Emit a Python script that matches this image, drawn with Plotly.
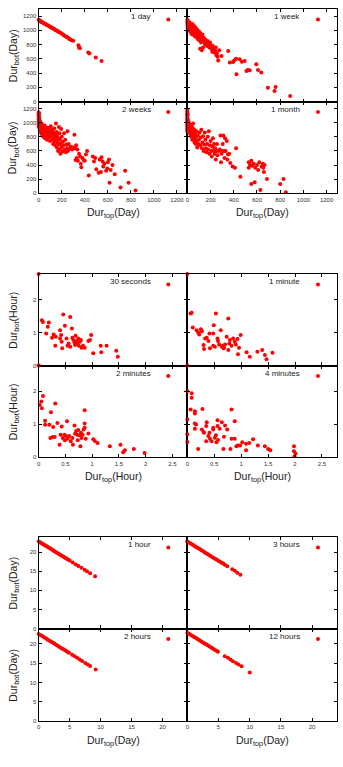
import plotly.graph_objects as go

# ---------------- data ----------------
# group 1 (days)
day1_x = [0, 5, 10, 15, 20, 25, 30, 38, 45, 52, 60, 68, 75, 82, 90, 98, 105, 112, 120, 128, 135, 142, 150, 160, 168,
          175, 185, 195, 205, 215, 225, 235, 245, 255, 265, 275, 285, 300, 345, 350, 358, 430, 440, 495, 545]
day1_y = [1150, 1140, 1135, 1128, 1125, 1118, 1112, 1105, 1100, 1092, 1085, 1080, 1072, 1068, 1060, 1050, 1045, 1040,
          1030, 1025, 1018, 1010, 1002, 995, 985, 978, 968, 958, 948, 936, 925, 915, 905, 895, 880, 870, 862, 855, 790,
          760, 750, 690, 675, 620, 568]

week1_x = [0, 0, 0, 2, 3, 5, 8, 10, 12, 15, 18, 20, 22, 25, 28, 30, 33, 35, 38, 40, 42, 45, 48, 50, 52, 55, 58, 60, 62,
           65, 68, 70, 72, 75, 78, 80, 85, 88, 90, 92, 95, 100, 102, 105, 110, 112, 115, 118, 120, 125, 128, 130, 135,
           140, 145, 150, 152, 155, 160, 165, 170, 175, 180, 185, 190, 195, 200, 205, 210, 215, 220, 225, 230, 240, 245,
           250, 255, 260, 275, 110, 125, 135, 266, 294, 352, 366, 394, 405, 420, 451, 470, 494, 423, 509, 537, 520, 594,
           609, 637, 694, 751, 760, 886]
week1_y = [1150, 1120, 1090, 1060, 1030, 1130, 1100, 1070, 1040, 1010, 1085, 1110, 1050, 980, 1020, 1070, 995, 950, 1040,
           1005, 970, 1090, 1030, 940, 1000, 960, 1060, 1015, 920, 985, 945, 1040, 1000, 905, 960, 930, 1010, 975, 880,
           945, 910, 985, 860, 940, 900, 960, 870, 830, 925, 890, 850, 940, 860, 900, 880, 830, 800, 870, 845, 810, 780,
           850, 820, 790, 760, 830, 800, 760, 730, 700, 780, 740, 690, 710, 760, 650, 680, 630, 720, 740, 720, 760, 575,
           640, 710, 547, 556, 580, 600, 593, 560, 570, 383, 430, 439, 445, 523, 444, 407, 196, 150, 206, 79]

week2_x = [0, 0, 0, 0, 0, 0, 0, 0, 0, 2, 3, 5, 8, 10, 12, 15, 18, 20, 22, 25, 28, 30, 32, 35, 38, 40, 42, 45, 48, 50, 52,
           55, 58, 60, 62, 65, 68, 70, 72, 75, 78, 80, 85, 88, 90, 95, 98, 100, 105, 108, 110, 115, 118, 120, 125, 128,
           130, 135, 138, 140, 145, 148, 150, 152, 155, 158, 160, 165, 168, 170, 175, 178, 180, 182, 185, 188, 190, 195,
           198, 200, 205, 210, 215, 220, 225, 230, 235, 240, 245, 250, 255, 260, 270, 280, 290, 300, 310, 315, 320, 325,
           330, 335, 340, 350, 360, 365, 370, 380, 390, 400, 410, 420, 435, 470, 480, 490, 500, 520, 530, 540, 545, 555,
           560, 570, 585, 595, 600, 610, 615, 625, 640, 660, 710, 750, 780, 840]
week2_y = [1150, 1120, 1100, 1080, 1050, 1020, 990, 960, 940, 1130, 1000, 1070, 1040, 980, 920, 1010, 880, 950, 850, 990,
           900, 830, 960, 870, 920, 800, 940, 860, 900, 820, 960, 780, 880, 840, 920, 870, 800, 900, 760, 850, 930, 820,
           880, 790, 860, 900, 740, 840, 950, 800, 870, 760, 900, 820, 700, 860, 780, 920, 730, 840, 680, 800, 990, 750,
           870, 650, 820, 720, 600, 780, 940, 690, 850, 620, 760, 560, 700, 910, 650, 800, 590, 730, 680, 850, 620, 760,
           580, 690, 640, 880, 600, 700, 640, 660, 620, 650, 830, 640, 470, 680, 500, 620, 460, 560, 520, 420, 370, 500,
           470, 460, 550, 600, 250, 520, 450, 500, 340, 290, 480, 300, 510, 450, 380, 420, 320, 350, 440, 480, 150, 330,
           400, 270, 80, 320, 150, 40]

month1_x = [0, 0, 0, 0, 0, 0, 0, 0, 0, 0, 0, 0, 0, 0, 0, 0, 2, 3, 5, 8, 10, 12, 15, 18, 20, 22, 25, 28, 30, 32, 35, 38,
            40, 42, 45, 48, 50, 52, 55, 58, 60, 62, 65, 68, 70, 72, 75, 78, 80, 85, 90, 95, 100, 105, 110, 115, 120, 125,
            130, 135, 140, 145, 150, 155, 160, 165, 170, 175, 180, 185, 190, 195, 200, 205, 210, 215, 220, 225, 230, 235,
            240, 245, 250, 255, 260, 270, 280, 285, 290, 295, 300, 305, 310, 315, 320, 325, 330, 340, 345, 350, 360, 370,
            390, 410, 420, 457, 529, 551, 529, 540, 551, 560, 570, 580, 585, 600, 610, 620, 629, 640, 650, 655, 660, 665,
            686, 800, 829, 849]
month1_y = [1180, 1160, 1140, 1120, 1100, 1080, 1060, 1040, 1020, 1000, 980, 960, 940, 920, 900, 880, 1120, 1050, 990,
            960, 900, 1010, 860, 940, 980, 880, 920, 830, 960, 870, 800, 940, 900, 760, 850, 920, 990, 820, 870, 780, 900,
            720, 840, 760, 860, 700, 800, 880, 740, 650, 820, 700, 760, 860, 680, 790, 900, 640, 720, 810, 600, 690, 860,
            760, 640, 580, 700, 800, 620, 880, 560, 680, 740, 600, 520, 660, 780, 600, 700, 560, 640, 480, 600, 700, 540,
            600, 620, 820, 440, 560, 600, 700, 820, 600, 500, 780, 600, 740, 480, 550, 560, 430, 380, 360, 640, 235, 438,
            461, 362, 400, 132, 390, 420, 156, 360, 400, 330, 440, 47, 380, 420, 360, 300, 400, 203, 132, 203, 14]

# group 2 (hours)
sec30_x = [0, 0, 0.06, 0.08, 0.19, 0.17, 0.14, 0.25, 0.28, 0.32, 0.31, 0.40, 0.42, 0.40, 0.43, 0.44, 0.46, 0.49, 0.52,
           0.54, 0.59, 0.62, 0.56, 0.59, 0.63, 0.65, 0.67, 0.68, 0.69, 0.71, 0.72, 0.74, 0.75, 0.77, 0.79, 0.80, 0.83,
           0.86, 0.93, 0.96, 0.98, 1.02, 1.16, 1.17, 1.27, 1.45, 1.48]
sec30_y = [2.77, 0, 1.37, 1.32, 1.30, 1.17, 0.97, 0.84, 0.94, 0.87, 0.60, 1.07, 0.92, 0.82, 0.72, 0.52, 1.54, 1.20, 0.82,
           0.60, 1.47, 1.12, 0.67, 0.57, 0.84, 0.77, 0.70, 0.62, 0.90, 0.74, 0.67, 0.82, 0.60, 0.72, 0.77, 0.54, 0.60,
           0.54, 0.74, 0.77, 0.92, 0.37, 0.60, 0.40, 0.60, 0.45, 0.27]

min1_x = [0, 0, 0.08, 0.06, 0.10, 0.17, 0.20, 0.22, 0.25, 0.27, 0.33, 0.36, 0.39, 0.30, 0.31, 0.42, 0.41, 0.48, 0.49,
          0.53, 0.48, 0.51, 0.56, 0.57, 0.59, 0.62, 0.64, 0.66, 0.67, 0.68, 0.70, 0.73, 0.76, 0.78, 0.79, 0.76, 0.82,
          0.85, 0.88, 0.90, 0.93, 0.96, 0.94, 0.99, 1.10, 1.16, 1.30, 1.39, 1.44, 1.47, 1.58]
min1_y = [2.77, 0, 1.60, 1.57, 1.15, 1.07, 1.00, 0.94, 1.10, 1.04, 0.82, 0.84, 0.74, 0.62, 0.50, 0.52, 0.97, 0.97, 1.22,
          1.57, 0.60, 0.57, 0.82, 0.74, 0.64, 1.07, 0.57, 0.60, 0.52, 0.54, 0.64, 0.87, 1.42, 0.67, 0.77, 0.47, 0.60,
          0.82, 0.72, 0.64, 0.80, 0.54, 0.34, 0.92, 0.40, 0.27, 0.42, 0.47, 0.32, 0.19, 0.39]

min2_x = [0, 0.02, 0.05, 0.08, 0.06, 0.12, 0.12, 0.20, 0.23, 0.27, 0.22, 0.26, 0.30, 0.31, 0.35, 0.39, 0.41, 0.43, 0.45,
          0.48, 0.49, 0.51, 0.53, 0.54, 0.57, 0.60, 0.63, 0.64, 0.67, 0.68, 0.70, 0.72, 0.73, 0.74, 0.76, 0.78, 0.79,
          0.80, 0.82, 0.84, 0.86, 0.86, 0.86, 0.88, 0.93, 1.02, 1.05, 1.10, 1.33, 1.53, 1.58, 1.61, 1.78, 1.98]
min2_y = [2.77, 1.58, 1.68, 1.85, 1.48, 1.10, 0.98, 0.98, 1.36, 0.91, 0.58, 0.61, 0.61, 1.62, 1.03, 0.38, 0.68, 0.93,
          0.58, 0.68, 0.51, 0.64, 1.09, 0.56, 0.64, 0.48, 0.58, 0.38, 0.96, 0.71, 0.79, 0.68, 0.51, 0.82, 0.66, 0.33,
          0.74, 0.58, 0.68, 0.84, 1.42, 1.02, 0.89, 0.56, 0.72, 0.54, 0.49, 0.43, 0.33, 0.38, 0.15, 0.21, 0.25, 0.13]

min4_x = [0, 0, 0.08, 0.08, 0.06, 0, 0, 0, 0.14, 0.14, 0.14, 0.16, 0.14, 0.20, 0.28, 0.27, 0.30, 0.31, 0.35, 0.36, 0.35,
          0.39, 0.41, 0.42, 0.45, 0.48, 0.48, 0.51, 0.53, 0.54, 0.56, 0.56, 0.57, 0.60, 0.64, 0.67, 0.68, 0.70, 0.74,
          0.80, 0.82, 0.82, 0.88, 0.88, 0.91, 0.94, 0.98, 1.02, 1.09, 1.09, 1.15, 1.22, 1.31, 1.44, 1.50, 1.54, 1.98,
          1.98, 2.01, 1.99]
min4_y = [2.77, 2.00, 1.93, 1.80, 1.44, 1.14, 0.69, 0.46, 1.39, 1.32, 1.02, 0.99, 0.86, 0.25, 1.46, 0.84, 0.76, 0.74,
          0.94, 1.06, 0.48, 0.64, 0.74, 0.56, 0.48, 0.84, 0.89, 0.59, 0.66, 0.45, 1.12, 0.94, 0.52, 0.86, 1.06, 0.25,
          0.62, 0.96, 0.84, 0.25, 1.44, 0.56, 1.09, 0.56, 0.33, 0.35, 0.35, 0.45, 0.21, 0.41, 0.43, 0.54, 0.35, 0.33,
          0.25, 0.21, 0.33, 0.18, 0.11, 0.03]

# group 3 (days, short scale)
hour1_x = [0, 0.2, 0.4, 0.6, 0.8, 1.0, 1.2, 1.4, 1.6, 1.8, 2.0, 2.2, 2.4, 2.6, 2.8, 3.0, 3.2, 3.4, 3.6, 3.8, 4.0, 4.2,
           4.4, 4.6, 4.8, 5.0, 5.5, 6.0, 6.4, 6.9, 7.4, 7.8, 8.3, 9.1]
hour1_y = [22.8, 22.6, 22.4, 22.2, 22.0, 21.8, 21.6, 21.4, 21.2, 21.0, 20.8, 20.6, 20.4, 20.2, 20.0, 19.8, 19.6, 19.4,
           19.2, 19.0, 18.8, 18.6, 18.4, 18.2, 18.0, 17.8, 17.3, 16.8, 16.4, 15.9, 15.4, 15.0, 14.5, 13.7]

hour3_x = [0, 0.25, 0.5, 0.75, 1.0, 1.25, 1.5, 1.75, 2.0, 2.25, 2.5, 2.75, 3.0, 3.25, 3.5, 3.75, 4.0, 4.25, 4.5, 4.75,
           5.0, 5.25, 5.5, 5.75, 6.0, 6.4, 7.2, 7.6, 8.0, 8.5]
hour3_y = [22.8, 22.55, 22.3, 22.0, 21.8, 21.5, 21.3, 21.0, 20.8, 20.5, 20.3, 20.0, 19.7, 19.5, 19.2, 19.0, 18.7, 18.5,
           18.2, 18.0, 17.7, 17.5, 17.2, 17.0, 16.7, 16.3, 15.5, 15.1, 14.6, 14.1]

hour2_x = [0, 0.25, 0.5, 0.75, 1.0, 1.25, 1.5, 1.75, 2.0, 2.25, 2.5, 2.75, 3.0, 3.25, 3.5, 3.75, 4.0, 4.25, 4.5, 4.75,
           4.9, 5.4, 5.8, 6.2, 6.6, 7.0, 7.5, 7.9, 8.3, 9.2]
hour2_y = [22.6, 22.35, 22.1, 21.85, 21.6, 21.35, 21.1, 20.85, 20.6, 20.35, 20.1, 19.85, 19.6, 19.35, 19.1, 18.85, 18.6,
           18.35, 18.1, 17.85, 17.7, 17.2, 16.8, 16.4, 16.0, 15.6, 15.1, 14.7, 14.3, 13.4]

hour12_x = [0, 0.25, 0.5, 0.75, 1.0, 1.25, 1.5, 1.75, 2.0, 2.25, 2.5, 2.75, 3.0, 3.25, 3.5, 3.75, 4.0, 4.25, 4.5, 4.75,
            4.9, 6.0, 6.5, 6.9, 7.3, 7.8, 8.2, 8.7, 10.0]
hour12_y = [22.9, 22.65, 22.4, 22.15, 21.9, 21.65, 21.4, 21.15, 20.9, 20.65, 20.4, 20.15, 19.9, 19.65, 19.4, 19.15, 18.9,
            18.65, 18.4, 18.15, 18.0, 16.8, 16.4, 16.0, 15.5, 15.1, 14.7, 14.2, 12.6]

labels = ["1 day", "1 week", "2 weeks", "1 month",
          "30 seconds", "1 minute", "2 minutes", "4 minutes",
          "1 hour", "3 hours", "2 hours", "12 hours"]
series_x = [day1_x, week1_x, week2_x, month1_x, sec30_x, min1_x, min2_x, min4_x, hour1_x, hour3_x, hour2_x, hour12_x]
series_y = [day1_y, week1_y, week2_y, month1_y, sec30_y, min1_y, min2_y, min4_y, hour1_y, hour3_y, hour2_y, hour12_y]

g1_ticks = [0, 200, 400, 600, 800, 1000, 1200]
g2_xticks = [0, 0.5, 1, 1.5, 2, 2.5]
g2_yticks = [0, 1, 2]
g3_ticks = [0, 5, 10, 15, 20]

unit_x = ["Day", "Hour", "Day"]
unit_y = ["Day", "Hour", "Day"]

# ---------------- layout ----------------
W, H = 343, 767
cols = [(37, 187), (187, 338)]
groups = [(9, 102, 194), (275, 367, 459), (539, 631, 724)]
xranges = [[0, 1290], [0, 2.78], [0, 24]]
yranges = [[0, 1300], [0, 2.77], [0, 24]]
xticks = [g1_ticks, g2_xticks, g3_ticks]
yticks = [g1_ticks, g2_yticks, g3_ticks]

FONT = "Liberation Sans, Arial, Helvetica, sans-serif"
fig = go.Figure()
layout = dict(width=W, height=H, margin=dict(l=0, r=0, t=0, b=0),
              paper_bgcolor="white", plot_bgcolor="white", showlegend=True,
              font=dict(family=FONT, color="#222"))
annotations = []

for i in range(12):
    g = i // 4
    k = i % 4
    row = k // 2   # 0 top, 1 bottom
    col = k % 2
    top, mid, bot = groups[g]
    ptop, pbot = (top, mid) if row == 0 else (mid, bot)
    x0, x1 = cols[col]
    n = i + 1
    xa = "xaxis" if n == 1 else f"xaxis{n}"
    ya = "yaxis" if n == 1 else f"yaxis{n}"
    xr = "x" if n == 1 else f"x{n}"
    yr = "y" if n == 1 else f"y{n}"
    lg = "legend" if n == 1 else f"legend{n}"
    common = dict(showgrid=False, zeroline=False, showline=True, linecolor="black", linewidth=1.2,
                  mirror="ticks", ticks="inside", ticklen=3, tickcolor="black", tickwidth=1,
                  tickfont=dict(size=6, color="#333", family=FONT))
    layout[xa] = dict(domain=[x0 / W, x1 / W], range=xranges[g], anchor=yr, tickmode="array",
                      tickvals=xticks[g], showticklabels=(row == 1), **common)
    layout[ya] = dict(domain=[1 - pbot / H, 1 - ptop / H], range=yranges[g], anchor=xr, tickmode="array",
                      tickvals=yticks[g], showticklabels=(col == 0), **common)
    # legend key (symbol only) at the panel's top-right corner; its label is an annotation to its left
    layout[lg] = dict(x=(x1 + 6) / W, xanchor="right", y=1 - (ptop - 4) / H, yanchor="top",
                      bgcolor="rgba(0,0,0,0)", borderwidth=0, font=dict(size=8, family=FONT, color="#222"),
                      itemwidth=30, tracegroupgap=0)
    fig.add_trace(go.Scatter(x=series_x[i], y=series_y[i], mode="markers", name="",
                             marker=dict(color="#ff0000", size=4, line=dict(width=0)),
                             xaxis=xr, yaxis=yr, legend=lg, showlegend=True, cliponaxis=False))
    annotations.append(dict(text=labels[i], xref="paper", yref="paper",
                            x=(x1 - 35) / W, y=1 - (ptop + 8) / H, xanchor="right", yanchor="middle",
                            showarrow=False, font=dict(size=8, family=FONT, color="#222")))
    if row == 1:
        annotations.append(dict(text=f"Dur<sub>top</sub>({unit_x[g]})", xref="paper", yref="paper",
                                x=(x0 + x1) / 2 / W, y=1 - (pbot + 11) / H, xanchor="center", yanchor="top",
                                showarrow=False, font=dict(size=10.5, family=FONT, color="#222")))
    if col == 0:
        annotations.append(dict(text=f"Dur<sub>bot</sub>({unit_y[g]})", xref="paper", yref="paper",
                                x=12 / W, y=1 - (ptop + pbot) / 2 / H, xanchor="center", yanchor="middle",
                                textangle=-90, showarrow=False, font=dict(size=10.5, family=FONT, color="#222")))

layout["annotations"] = annotations
fig.update_layout(**layout)
fig.write_html("out.html")
